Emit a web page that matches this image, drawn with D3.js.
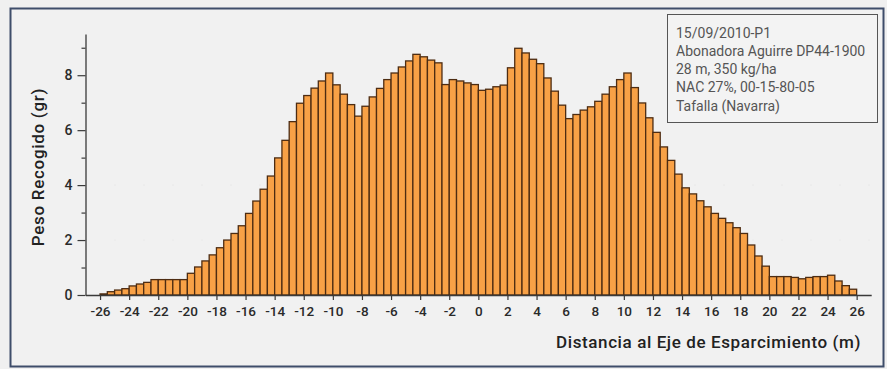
<!DOCTYPE html>
<html>
<head>
<meta charset="utf-8">
<script src="https://cdn.jsdelivr.net/npm/d3@7"></script>
<style>
  html, body { margin: 0; padding: 0; background: #f0f0f0; }
  svg { display: block; }
</style>
</head>
<body>
<svg id="chart" width="887" height="369"></svg>
<script>
// Collected weight per 0.5 m tray, from -26 m to +26 m across the spread width
const binStart = -26;
const binWidth = 0.5;
const pesoRecogido = [
  0.04, 0.12, 0.18, 0.23, 0.33, 0.40, 0.46, 0.56, 0.56, 0.56, 0.56, 0.56,
  0.79, 1.02, 1.24, 1.46, 1.72, 2.00, 2.24, 2.52, 2.97, 3.42, 3.85, 4.33,
  4.99, 5.63, 6.31, 6.98, 7.26, 7.53, 7.79, 8.08, 7.65, 7.31, 6.93, 6.51,
  6.87, 7.21, 7.52, 7.84, 8.08, 8.30, 8.52, 8.76, 8.67, 8.55, 8.45, 7.66,
  7.84, 7.79, 7.72, 7.66, 7.45, 7.49, 7.58, 7.64, 8.27, 8.98, 8.81, 8.58,
  8.42, 7.90, 7.42, 6.91, 6.42, 6.57, 6.73, 6.85, 7.05, 7.31, 7.58, 7.84,
  8.08, 7.55, 6.99, 6.45, 5.92, 5.39, 4.90, 4.40, 3.90, 3.68, 3.43, 3.21,
  2.97, 2.79, 2.63, 2.45, 2.24, 1.82, 1.42, 1.05, 0.67, 0.67, 0.67, 0.64,
  0.59, 0.64, 0.67, 0.67, 0.72, 0.51, 0.34, 0.21
];
const xTicks = d3.range(-26, 27, 2);
const yTicks = d3.range(0, 10, 1);
const yLabelTicks = [0, 2, 4, 6, 8];
const legendLines = [
  "15/09/2010-P1",
  "Abonadora Aguirre DP44-1900",
  "28 m, 350 kg/ha",
  "NAC 27%, 00-15-80-05",
  "Tafalla (Navarra)"
];
const yTitle = "Peso Recogido (gr)";
const xTitle = "Distancia al Eje de Esparcimiento (m)";

const svg = d3.select("#chart");

// outer panel frame
svg.append("rect")
  .attr("x", 0).attr("y", 0).attr("width", 887).attr("height", 369)
  .attr("fill", "#f0f0f0");
svg.append("rect")
  .attr("x", 10.5).attr("y", 8.5).attr("width", 873).attr("height", 358)
  .attr("fill", "#f1f1f1")
  .attr("stroke", "#3e4d6a").attr("stroke-width", 2);

const x = d3.scaleLinear().domain([-27, 27]).range([85.5, 871.2]);
const y = d3.scaleLinear().domain([0, 9.5]).range([295, 34]);

// faint dotted guides
svg.append("g")
  .selectAll("line")
  .data([2, 4])
  .join("line")
  .attr("x1", x(-27)).attr("x2", x(27))
  .attr("y1", d => y(d)).attr("y2", d => y(d))
  .attr("stroke", "#e2e2e2").attr("stroke-width", 1)
  .attr("stroke-dasharray", "1,28");

// bars
const bins = pesoRecogido.map((v, i) => ({ x0: binStart + i * binWidth, v }));
svg.append("g")
  .selectAll("rect")
  .data(bins)
  .join("rect")
  .attr("x", d => x(d.x0))
  .attr("width", d => x(d.x0 + binWidth) - x(d.x0))
  .attr("y", d => y(d.v))
  .attr("height", d => y(0) - y(d.v))
  .attr("fill", "#f8a146")
  .attr("stroke", "#4d2c12")
  .attr("stroke-width", 1.3);

const tickFont = "Roboto, 'DejaVu Sans', sans-serif";

// x axis
const xAxis = svg.append("g")
  .attr("transform", `translate(0,${y(0)})`)
  .call(d3.axisBottom(x).tickValues(xTicks).tickSize(5).tickSizeOuter(0).tickPadding(6)
    .tickFormat(d => String(d)));
xAxis.select(".domain").attr("stroke", "#3a3a3a").attr("stroke-width", 1.3);
xAxis.selectAll(".tick line").attr("stroke", "#3a3a3a").attr("stroke-width", 1.2);
xAxis.selectAll(".tick text")
  .attr("fill", "#2a2a2a")
  .style("font-family", tickFont)
  .style("font-size", "13.5px")
  .style("font-weight", "500");

// y axis
const yAxis = svg.append("g")
  .attr("transform", `translate(${x(-27)},0)`)
  .call(d3.axisLeft(y).tickValues(yTicks).tickSize(8).tickSizeOuter(0).tickPadding(5)
    .tickFormat(d => yLabelTicks.includes(d) ? String(d) : ""));
yAxis.select(".domain").attr("stroke", "#3a3a3a").attr("stroke-width", 1.3);
yAxis.selectAll(".tick line")
  .attr("stroke", "#3a3a3a").attr("stroke-width", 1.2)
  .attr("x2", d => yLabelTicks.includes(d) ? -8 : -4);
yAxis.selectAll(".tick text")
  .attr("fill", "#2a2a2a")
  .style("font-family", tickFont)
  .style("font-size", "14px")
  .style("font-weight", "500");

// axis titles
svg.append("text")
  .attr("transform", "translate(44,167) rotate(-90)")
  .attr("text-anchor", "middle")
  .attr("fill", "#222")
  .style("font-family", tickFont)
  .style("font-size", "17px")
  .style("font-weight", "500")
  .style("letter-spacing", "0.7px")
  .text(yTitle);

svg.append("text")
  .attr("x", 861).attr("y", 348)
  .attr("text-anchor", "end")
  .attr("fill", "#222")
  .style("font-family", tickFont)
  .style("font-size", "17px")
  .style("font-weight", "500")
  .style("letter-spacing", "0.6px")
  .text(xTitle);

// info box
const box = svg.append("g");
box.append("rect")
  .attr("x", 667.5).attr("y", 14.5).attr("width", 210).attr("height", 108)
  .attr("fill", "#f3f3f3")
  .attr("stroke", "#555").attr("stroke-width", 1);
box.selectAll("text")
  .data(legendLines)
  .join("text")
  .attr("x", 676)
  .attr("y", (d, i) => 37.5 + i * 18.3)
  .attr("fill", "#555")
  .style("font-family", tickFont)
  .style("font-size", "14px")
  .text(d => d);
</script>
</body>
</html>
